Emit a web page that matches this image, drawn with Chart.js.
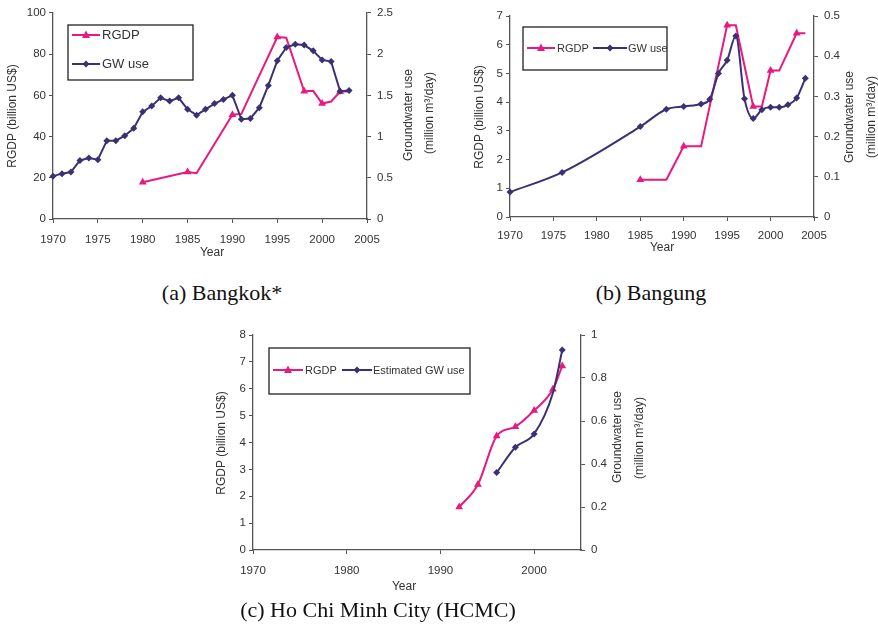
<!DOCTYPE html>
<html><head><meta charset="utf-8">
<script src="https://cdn.jsdelivr.net/npm/chart.js@4"></script>
<style>
html,body{margin:0;padding:0;background:#fff;width:878px;height:624px;overflow:hidden;}
.c{position:absolute;}
.cap{position:absolute;font-family:"Liberation Serif","Times New Roman",serif;font-size:22px;color:#111;white-space:nowrap;transform:translate(-50%,-50%);}
</style></head><body>
<div class="c" style="left:0;top:0;width:440px;height:265px"><canvas id="ca" width="440" height="265"></canvas></div>
<div class="c" style="left:440px;top:0;width:438px;height:265px"><canvas id="cb" width="438" height="265"></canvas></div>
<div class="c" style="left:200px;top:320px;width:460px;height:280px"><canvas id="cc" width="460" height="280"></canvas></div>
<div class="cap" style="left:222px;top:293px">(a) Bangkok*</div>
<div class="cap" style="left:651px;top:293px">(b) Bangung</div>
<div class="cap" style="left:378px;top:610px">(c) Ho Chi Minh City (HCMC)</div>
<script>
// ---------- DATA ----------
// (a) Bangkok
const bkkGwYears = [1970,1971,1972,1973,1974,1975,1976,1977,1978,1979,1980,1981,1982,1983,1984,1985,1986,1987,1988,1989,1990,1991,1992,1993,1994,1995,1996,1997,1998,1999,2000,2001,2002,2003];
const bkkGw = [0.52,0.55,0.57,0.71,0.74,0.72,0.95,0.95,1.01,1.10,1.30,1.37,1.47,1.43,1.47,1.33,1.26,1.33,1.40,1.45,1.50,1.21,1.22,1.35,1.62,1.92,2.08,2.12,2.11,2.04,1.93,1.91,1.55,1.56];
const bkkGdpYears = [1980,1985,1986,1990,1991,1995,1996,1998,1999,2000,2001,2002,2003];
const bkkGdp = [17.8,22.8,22.2,50.6,51.0,88.3,88.0,62.0,62.2,56.0,57.0,61.7,62.0];
const bkkGdpMarked = [1,1,0,1,0,1,0,1,0,1,0,1,0];
// (b) Bangung
const bdgGwYears = [1970,1976,1985,1988,1990,1992,1993,1994,1995,1996,1997,1998,1999,2000,2001,2002,2003,2004];
const bdgGw = [0.062,0.111,0.225,0.268,0.275,0.281,0.293,0.357,0.390,0.450,0.294,0.245,0.267,0.273,0.273,0.279,0.296,0.345];
const bdgGdpYears = [1985,1988,1990,1992,1995,1996,1998,1999,2000,2001,2003,2004];
const bdgGdp = [1.3,1.3,2.46,2.46,6.68,6.68,3.85,3.85,5.1,5.1,6.4,6.4];
const bdgGdpMarked = [1,0,1,0,1,0,1,0,1,0,1,0];
// (c) HCMC
const hcmGdpYears = [1992,1994,1996,1998,2000,2002,2003];
const hcmGdp = [1.6,2.44,4.24,4.59,5.19,5.98,6.85];
const hcmGwYears = [1996,1998,2000,2002,2003];
const hcmGw = [0.36,0.478,0.54,0.73,0.93];
const hcmGwMarked = [1,1,1,0,1];
// tick settings
const bkkXTicks = {min:1970,max:2005,step:5};
const bkkYTicks = {min:0,max:100,step:20};
const bkkY1Ticks = {min:0,max:2.5,step:0.5};
const bdgXTicks = {min:1970,max:2005,step:5};
const bdgYTicks = {min:0,max:7,step:1};
const bdgY1Ticks = {min:0,max:0.5,step:0.1};
const hcmXTicks = {min:1970,max:2005,step:10};
const hcmYTicks = {min:0,max:8,step:1};
const hcmY1Ticks = {min:0,max:1,step:0.2};

// ---------- STYLE ----------
const PINK = '#e8197f';
const PURP = '#3c2f74';
const AX = '#555';
const TXT = '#333';
const FONT = '"Liberation Sans", Arial, sans-serif';

function pts(xs, ys){ return xs.map((x,i)=>({x:x,y:ys[i]})); }

function drawMarker(ctx, style, x, y, r, color){
  ctx.save(); ctx.fillStyle=color; ctx.strokeStyle=color; ctx.lineWidth=1;
  ctx.beginPath();
  if(style==='triangle'){
    ctx.moveTo(x, y-r*1.1); ctx.lineTo(x+r, y+r*0.75); ctx.lineTo(x-r, y+r*0.75);
  } else {
    ctx.moveTo(x, y-r); ctx.lineTo(x+r, y); ctx.lineTo(x, y+r); ctx.lineTo(x-r, y);
  }
  ctx.closePath(); ctx.fill(); ctx.restore();
}

const deco = {
  id:'deco',
  afterDraw(chart, args, o){
    const ctx = chart.ctx;
    ctx.save();
    ctx.fillStyle = TXT;
    ctx.font = '12px ' + FONT;
    ctx.textAlign='center'; ctx.textBaseline='middle';
    for(const t of o.titles){
      ctx.save(); ctx.translate(t.x, t.y);
      if(t.rot) ctx.rotate(-Math.PI/2);
      ctx.fillText(t.text, 0, 0);
      ctx.restore();
    }
    const L = o.legend;
    ctx.fillStyle='#fff'; ctx.fillRect(L.x, L.y, L.w, L.h);
    ctx.strokeStyle='#222'; ctx.lineWidth=1.3; ctx.strokeRect(L.x, L.y, L.w, L.h);
    ctx.save();
    ctx.beginPath(); ctx.rect(L.x, L.y, L.w, L.h); ctx.clip();
    ctx.font = L.font + 'px ' + FONT; ctx.textAlign='left';
    for(const e of L.items){
      ctx.strokeStyle=e.color; ctx.lineWidth=2;
      ctx.beginPath(); ctx.moveTo(e.x0, e.y); ctx.lineTo(e.x1, e.y); ctx.stroke();
      drawMarker(ctx, e.style, (e.x0+e.x1)/2, e.y, e.style==='triangle'?4:3.5, e.color);
      ctx.fillStyle=TXT; ctx.fillText(e.text, e.tx, e.y+0.5);
    }
    ctx.restore();
    ctx.restore();
  }
};

function axisY(t, pos, width, pad){
  return {
    type:'linear', position:pos, min:t.min, max:t.max,
    afterFit(s){ s.width = width; },
    ticks:{stepSize:t.step, color:TXT, font:{size:11.5, family:FONT}, padding:pad, includeBounds:false,
      callback:v=>String(+v.toFixed(2))},
    grid:{drawOnChartArea:false, drawTicks:true, tickLength:4, color:AX, lineWidth:1},
    border:{display:true, color:AX, width:1.3}
  };
}
function axisX(t, height, pad){
  return {
    type:'linear', min:t.min, max:t.max,
    afterFit(s){ s.height = height; },
    ticks:{stepSize:t.step, color:TXT, font:{size:11.5, family:FONT}, padding:pad, includeBounds:false, maxRotation:0,
      callback:v=>String(v)},
    grid:{drawOnChartArea:false, drawTicks:true, tickLength:4, color:AX, lineWidth:1},
    border:{display:true, color:AX, width:1.3}
  };
}
function ds(label, data, color, style, radius, axis, smooth){
  const d = {label, data, yAxisID:axis, borderColor:color, backgroundColor:color,
    borderWidth:2, pointStyle:style, pointRadius:radius, pointHoverRadius:radius,
    pointBorderWidth:0, tension:0, spanGaps:true, clip:false};
  if(smooth) d.cubicInterpolationMode='monotone';
  return d;
}
function mk(id, datasets, scales, padTop, decoOpts){
  new Chart(document.getElementById(id), {
    type:'line',
    data:{datasets},
    options:{
      responsive:false, animation:false,
      layout:{padding:{top:padTop, left:0, right:0, bottom:0}},
      scales,
      plugins:{legend:{display:false}, tooltip:{enabled:false}, deco:decoOpts}
    },
    plugins:[deco]
  });
}

// (a) Bangkok
mk('ca', [
  ds('GW use', pts(bkkGwYears,bkkGw), PURP, 'rectRot', 3.5, 'y1', false),
  ds('RGDP', pts(bkkGdpYears,bkkGdp), PINK, 'triangle', bkkGdpMarked.map(m=>m?4.5:0), 'y', false)
], {x:axisX(bkkXTicks,46,10), y:axisY(bkkYTicks,'left',53,3), y1:axisY(bkkY1Ticks,'right',73,6)}, 10, {
  titles:[
    {text:'RGDP (billion US$)', x:13, y:116, rot:true},
    {text:'Groundwater use', x:409, y:115, rot:true},
    {text:'(million m³/day)', x:430, y:113, rot:true},
    {text:'Year', x:212, y:253, rot:false}
  ],
  legend:{x:68, y:25, w:125, h:55, font:13, items:[
    {text:'RGDP', color:PINK, style:'triangle', x0:72, x1:100, y:35, tx:102},
    {text:'GW use', color:PURP, style:'diamond', x0:72, x1:100, y:64, tx:102}
  ]}
});

// (b) Bangung
mk('cb', [
  ds('GW use', pts(bdgGwYears,bdgGw), PURP, 'rectRot', 3.5, 'y1', true),
  ds('RGDP', pts(bdgGdpYears,bdgGdp), PINK, 'triangle', bdgGdpMarked.map(m=>m?4.5:0), 'y', false)
], {x:axisX(bdgXTicks,48,8), y:axisY(bdgYTicks,'left',70,3), y1:axisY(bdgY1Ticks,'right',64,6)}, 16, {
  titles:[
    {text:'RGDP (billion US$)', x:40, y:117, rot:true},
    {text:'Groundwater use', x:410, y:117, rot:true},
    {text:'(million m³/day)', x:432, y:117, rot:true},
    {text:'Year', x:222, y:248, rot:false}
  ],
  legend:{x:83, y:27, w:144, h:43, font:11, items:[
    {text:'RGDP', color:PINK, style:'triangle', x0:87, x1:115, y:48, tx:117},
    {text:'GW use', color:PURP, style:'diamond', x0:153, x1:187, y:48, tx:188}
  ]}
});

// (c) HCMC
mk('cc', [
  ds('Estimated GW use', pts(hcmGwYears,hcmGw), PURP, 'rectRot', hcmGwMarked.map(m=>m?3.5:0), 'y1', true),
  ds('RGDP', pts(hcmGdpYears,hcmGdp), PINK, 'triangle', 4.5, 'y', true)
], {x:axisX(hcmXTicks,50,10), y:axisY(hcmYTicks,'left',53,3), y1:axisY(hcmY1Ticks,'right',79,6)}, 15, {
  titles:[
    {text:'RGDP (billion US$)', x:22, y:123, rot:true},
    {text:'Groundwater use', x:418, y:117, rot:true},
    {text:'(million m³/day)', x:440, y:118, rot:true},
    {text:'Year', x:204, y:267, rot:false}
  ],
  legend:{x:69, y:28, w:201, h:46, font:11, items:[
    {text:'RGDP', color:PINK, style:'triangle', x0:73, x1:103, y:50, tx:105},
    {text:'Estimated GW use', color:PURP, style:'diamond', x0:142, x1:172, y:50, tx:173}
  ]}
});
</script>
</body></html>
